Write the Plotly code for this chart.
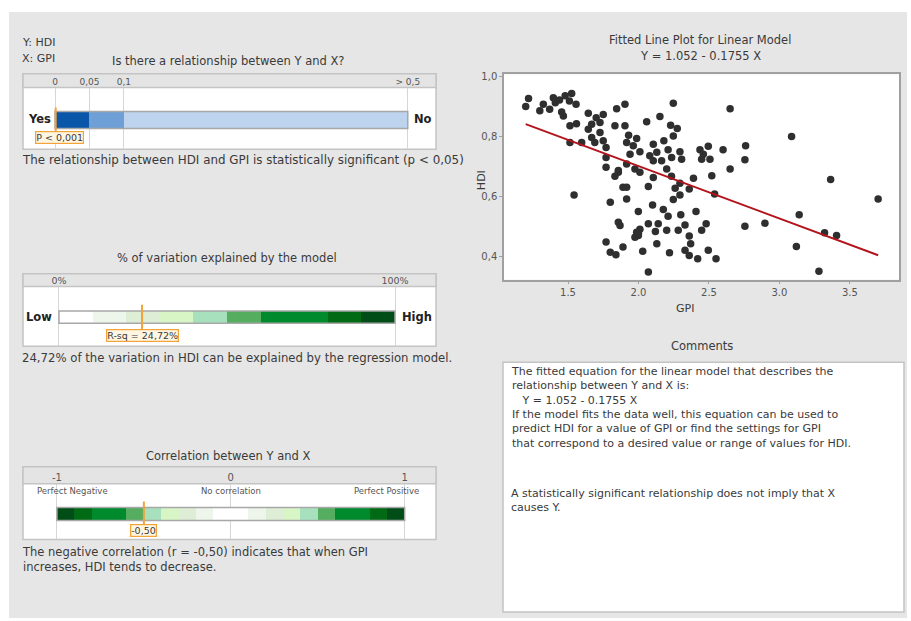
import numpy as np
import plotly.graph_objects as go

# ---------------- data ----------------
gpi = [1.22, 1.20, 1.30, 1.325, 1.396, 1.41, 1.44, 1.37, 1.48, 1.526, 1.51, 1.557, 1.455, 1.467,
       1.644, 1.70, 1.75, 1.727, 1.668, 1.644, 1.845, 1.904, 1.833, 1.904, 1.514, 1.56, 1.668,
       1.727, 1.69, 1.75, 1.514, 1.597, 1.93, 1.916, 1.77, 1.77, 1.77, 1.857,
       2.247, 2.65, 3.086, 2.058, 2.152,
       2.228, 2.275, 2.247, 1.987, 1.963, 2.105, 2.18, 2.21, 2.294, 2.13, 2.08, 2.105, 2.164,
       2.235, 2.306, 2.01, 1.94, 2.436, 2.495, 2.46, 2.448, 2.507, 2.60, 2.76, 2.755, 2.20,
       2.65, 1.916, 1.975,
       2.52, 2.39, 2.36, 2.294, 2.294, 2.26, 2.247, 2.234, 2.105, 2.01, 1.89, 1.916, 2.07,
       1.916, 2.10, 1.999, 2.176, 2.21, 2.30, 2.408, 2.07, 2.14, 2.33, 2.48, 2.448, 2.282,
       2.20, 2.12, 1.987, 1.999, 1.975, 1.89, 2.03, 2.13, 2.22, 2.36, 2.37, 2.33, 2.36, 2.42,
       2.495, 2.55, 2.07, 2.755, 2.54, 2.00, 2.01,
       1.543, 1.833, 1.857, 1.80, 1.857, 1.869, 1.77, 1.80, 1.84,
       3.363, 3.70, 3.14, 2.897, 3.32, 3.405, 3.12, 3.28]
hdi = [0.927, 0.900, 0.886, 0.908, 0.930, 0.913, 0.922, 0.891, 0.936, 0.944, 0.919, 0.908, 0.882, 0.869,
       0.878, 0.863, 0.874, 0.847, 0.841, 0.824, 0.893, 0.908, 0.836, 0.836, 0.836, 0.843, 0.797,
       0.813, 0.780, 0.786, 0.780, 0.780, 0.804, 0.780, 0.763, 0.730, 0.697, 0.686,
       0.911, 0.893, 0.800, 0.849, 0.867,
       0.838, 0.827, 0.802, 0.793, 0.769, 0.774, 0.786, 0.756, 0.749, 0.747, 0.736, 0.719, 0.719,
       0.730, 0.724, 0.749, 0.741, 0.756, 0.767, 0.741, 0.724, 0.724, 0.756, 0.769, 0.722, 0.691,
       0.691, 0.708, 0.691,
       0.669, 0.660, 0.624, 0.644, 0.604, 0.627, 0.589, 0.667, 0.663, 0.680, 0.630, 0.630, 0.633,
       0.591, 0.571, 0.549, 0.556, 0.533, 0.538, 0.549, 0.508, 0.508, 0.504, 0.508, 0.486, 0.486,
       0.486, 0.482, 0.480, 0.469, 0.463, 0.430, 0.416, 0.441, 0.411, 0.467, 0.441, 0.419, 0.402, 0.391,
       0.419, 0.391, 0.347, 0.500, 0.608, 0.475, 0.490,
       0.604, 0.667, 0.680, 0.580, 0.513, 0.502, 0.447, 0.413, 0.404,
       0.656, 0.591, 0.538, 0.510, 0.478, 0.469, 0.432, 0.349]

fit_intercept = 1.052
fit_slope = -0.1755
x_ticks = [1.5, 2.0, 2.5, 3.0, 3.5]
x_ticktext = ["1.5", "2.0", "2.5", "3.0", "3.5"]
y_ticks = [0.4, 0.6, 0.8, 1.0]
y_ticktext = ["0,4", "0,6", "0,8", "1,0"]

# p-value gauge
p_thresholds = [0, 0.05, 0.1, 0.5]
p_positions = [0, 1, 2, 10.25]          # piecewise display scale of the gauge
p_ticktext = ["0", "0,05", "0,1", "> 0,5"]
p_colors = ["#0a56a8", "#6e9fd6", "#bdd3ee"]
p_value = 0.001
p_label = "P < 0,001"

# R-sq gauge
rsq = 24.72
rsq_bins = [0, 10, 20, 30, 40, 50, 60, 70, 80, 90, 100]
green_colors = ["#ffffff", "#eef6ec", "#deedd6", "#d8f5c6", "#a6e0bc",
                "#55ae60", "#008a2e", "#008a2e", "#006b14", "#004d18"]
rsq_label = "R-sq = 24,72%"

# correlation gauge
r_value = -0.50
r_bins = [-1.0, -0.9, -0.8, -0.7, -0.6, -0.5, -0.4, -0.3, -0.2, -0.1, 0.0,
          0.1, 0.2, 0.3, 0.4, 0.5, 0.6, 0.7, 0.8, 0.9, 1.0]
r_colors = green_colors[::-1] + green_colors
r_label = "-0,50"

# ---------------- helpers ----------------
W, H = 911, 621
FONT = "DejaVu Sans"
TXT = "#3a3a3a"
ORANGE = "#f2a33a"


def X(p):
    return p / W


def Y(p):
    return 1 - p / H


fig = go.Figure()
shapes = []
annotations = []


def text(x, y, s, size=11.5, color=TXT, xanchor="left", yanchor="middle", bold=False, **kw):
    if bold:
        s = "<b>" + s + "</b>"
    annotations.append(dict(x=X(x), y=Y(y), xref="paper", yref="paper", text=s,
                            showarrow=False, xanchor=xanchor, yanchor=yanchor,
                            font=dict(family=FONT, size=size, color=color), **kw))


# background
shapes.append(dict(type="rect", xref="paper", yref="paper", x0=X(9), x1=X(907), y0=Y(618), y1=Y(9),
                   fillcolor="#e6e6e6", line=dict(width=0), layer="below"))
shapes.append(dict(type="rect", xref="x domain", yref="y domain", x0=0, x1=1, y0=0, y1=1,
                   fillcolor="#ffffff", line=dict(width=0), layer="below"))


def panel(x0, x1, ytop, yhead, ybot):
    shapes.append(dict(type="rect", xref="paper", yref="paper", x0=X(x0), x1=X(x1),
                       y0=Y(ybot), y1=Y(ytop), fillcolor="#ffffff",
                       line=dict(color="#c4c4c4", width=1.5), layer="below"))
    shapes.append(dict(type="rect", xref="paper", yref="paper", x0=X(x0), x1=X(x1),
                       y0=Y(yhead), y1=Y(ytop), fillcolor="#e4e4e4",
                       line=dict(color="#c4c4c4", width=1.5), layer="below"))


# ---------------- scatter ----------------
fig.add_trace(go.Scatter(x=gpi, y=hdi, mode="markers",
                         marker=dict(size=7.5, color="#2f2f2f"),
                         showlegend=False, hoverinfo="skip", xaxis="x", yaxis="y"))
xf = np.array([min(gpi), max(gpi)])
fig.add_trace(go.Scatter(x=xf, y=fit_intercept + fit_slope * xf, mode="lines",
                         line=dict(color="#b3141c", width=2),
                         showlegend=False, hoverinfo="skip", xaxis="x", yaxis="y"))

text(700, 37, "Fitted Line Plot for Linear Model", size=11.5, xanchor="center")
text(700, 53, "Y = 1.052 - 0.1755 X", size=11.5, xanchor="center")
text(481, 178, "HDI", size=11, xanchor="center", textangle=-90)
text(685, 307, "GPI", size=11, xanchor="center")


# ---------------- gauge helpers ----------------
def gauge(ax, starts, ends, colors, ybar, bw, mark, my0, my1, label, ly, lshift=0):
    widths = [e - s for s, e in zip(starts, ends)]
    fig.add_trace(go.Bar(y=[ybar] * len(widths), x=widths, base=starts, orientation="h",
                         width=bw, marker=dict(color=colors, line=dict(width=0)),
                         showlegend=False, hoverinfo="skip", xaxis="x" + ax, yaxis="y" + ax))
    shapes.append(dict(type="rect", xref="x" + ax, yref="y" + ax, x0=starts[0], x1=ends[-1],
                       y0=ybar - bw / 2, y1=ybar + bw / 2, line=dict(color="#a8a8a8", width=1.5)))
    shapes.append(dict(type="line", xref="x" + ax, yref="y" + ax, x0=mark, x1=mark,
                       y0=my0, y1=my1, line=dict(color=ORANGE, width=2)))
    annotations.append(dict(x=mark, y=ly, xref="x" + ax, yref="y" + ax, text=label,
                            showarrow=False, xanchor="center", yanchor="middle", xshift=lshift,
                            font=dict(family=FONT, size=9.5, color=TXT),
                            bgcolor="#fff6e2", bordercolor=ORANGE, borderwidth=1.2, borderpad=0))


# ---------------- gauge 1: p-value ----------------
text(20, 40, "Y: HDI", size=11)
text(20, 56, "X: GPI", size=11)
text(228, 58, "Is there a relationship between Y and X?", size=11.5, xanchor="center")
panel(23, 436, 71, 85, 147)
p_pos = [float(np.interp(v, p_thresholds, p_positions)) for v in p_thresholds]
gauge("2", p_pos[:-1], p_pos[1:], p_colors, 0.473, 0.2755,
      float(np.interp(p_value, p_thresholds, p_positions)), 0.27, 0.676, p_label, 0.19, lshift=4)
text(39, 117, "Yes", size=11.5, xanchor="center", bold=True, color="#222222")
text(423, 117, "No", size=11.5, xanchor="center", bold=True, color="#222222")
text(20, 158, "The relationship between HDI and GPI is statistically significant (p < 0,05)", size=11.9)

# ---------------- gauge 2: R-sq ----------------
text(227, 256, "% of variation explained by the model", size=11.5, xanchor="center")
panel(23, 436, 272, 285, 345)
gauge("3", rsq_bins[:-1], rsq_bins[1:], green_colors, 0.49, 0.203,
      rsq, 0.288, 0.695, rsq_label, 0.178)
text(39, 316, "Low", size=11.5, xanchor="center", bold=True, color="#222222")
text(417, 316, "High", size=11.5, xanchor="center", bold=True, color="#222222")
text(20, 357, "24,72% of the variation in HDI can be explained by the regression model.", size=11.7)

# ---------------- gauge 3: correlation ----------------
text(228, 455, "Correlation between Y and X", size=11.5, xanchor="center")
panel(23, 436, 466, 483, 539)
gauge("4", r_bins[:-1], r_bins[1:], r_colors, 0.455, 0.232,
      r_value, 0.232, 0.679, r_label, 0.152)
for xv, s in [(-0.908, "Perfect Negative"), (0.0, "No correlation"), (0.897, "Perfect Positive")]:
    annotations.append(dict(x=xv, y=0.875, xref="x4", yref="y4", text=s, showarrow=False,
                            xanchor="center", yanchor="middle",
                            font=dict(family=FONT, size=8.5, color="#555555")))
text(20, 559, "The negative correlation (r = -0,50) indicates that when GPI<br>"
              "increases, HDI tends to decrease.", size=11.5, align="left")

# ---------------- comments ----------------
text(702, 345, "Comments", size=11.5, xanchor="center")
shapes.append(dict(type="rect", xref="paper", yref="paper", x0=X(503), x1=X(904), y0=Y(612), y1=Y(361),
                   fillcolor="#ffffff", line=dict(color="#c4c4c4", width=1.5), layer="below"))
comment_block1 = ("The fitted equation for the linear model that describes the<br>"
                  "relationship between Y and X is:<br>"
                  "&nbsp;&nbsp;&nbsp;Y = 1.052 - 0.1755 X<br>"
                  "If the model fits the data well, this equation can be used to<br>"
                  "predict HDI for a value of GPI or find the settings for GPI<br>"
                  "that correspond to a desired value or range of values for HDI.")
comment_block2 = ("A statistically significant relationship does not imply that X<br>"
                  "causes Y.")
text(509, 362, comment_block1, size=11, yanchor="top", align="left")
text(509, 484, comment_block2, size=11, yanchor="top", align="left")

# ---------------- layout ----------------
gauge_x = dict(showgrid=True, gridcolor="#d6d6d6", gridwidth=1, zeroline=False, showline=False,
               ticks="", side="top", fixedrange=True,
               tickfont=dict(family=FONT, size=9, color="#555555"))
gauge_y = dict(range=[0, 1], visible=False, fixedrange=True)

fig.update_layout(
    width=W, height=H, margin=dict(l=0, r=0, t=0, b=0),
    paper_bgcolor="#ffffff", plot_bgcolor="#ffffff",
    barmode="overlay", bargap=0,
    font=dict(family=FONT, color=TXT),
    xaxis=dict(domain=[X(504), X(899)], range=[1.046, 3.848], tickvals=x_ticks, ticktext=x_ticktext,
               showline=True, linecolor="#a0a0a0", linewidth=1.5, mirror=True, ticks="outside",
               ticklen=3, tickcolor="#a0a0a0", showgrid=False, zeroline=False,
               tickfont=dict(family=FONT, size=10, color="#555555"), anchor="y"),
    yaxis=dict(domain=[Y(278), Y(71.7)], range=[0.321, 1.008], tickvals=y_ticks, ticktext=y_ticktext,
               showline=True, linecolor="#a0a0a0", linewidth=1.5, mirror=True, ticks="outside",
               ticklen=3, tickcolor="#a0a0a0", showgrid=False, zeroline=False,
               tickfont=dict(family=FONT, size=10, color="#555555"), anchor="x"),
    xaxis2=dict(gauge_x, domain=[X(23), X(436)], range=[-0.93, 11.07],
                tickvals=p_positions, ticktext=p_ticktext, anchor="y2"),
    yaxis2=dict(gauge_y, domain=[Y(147), Y(85)], anchor="x2"),
    xaxis3=dict(gauge_x, domain=[X(23), X(436)], range=[-10.7, 112.2],
                tickvals=[0, 100], ticktext=["0%", "100%"], anchor="y3"),
    yaxis3=dict(gauge_y, domain=[Y(345), Y(285)], anchor="x3"),
    xaxis4=dict(gauge_x, domain=[X(23), X(436)], range=[-1.195, 1.18],
                tickvals=[-1, 0, 1], ticktext=["-1", "0", "1"], anchor="y4"),
    yaxis4=dict(gauge_y, domain=[Y(539), Y(483)], anchor="x4"),
    shapes=shapes,
    annotations=annotations,
)
fig.update_layout(xaxis4_tickfont_size=10, xaxis3_tickfont_size=9.5)

fig.write_html("out.html", config={"displayModeBar": False},
               post_script="document.body.style.margin='0px';document.body.style.overflow='hidden';")
